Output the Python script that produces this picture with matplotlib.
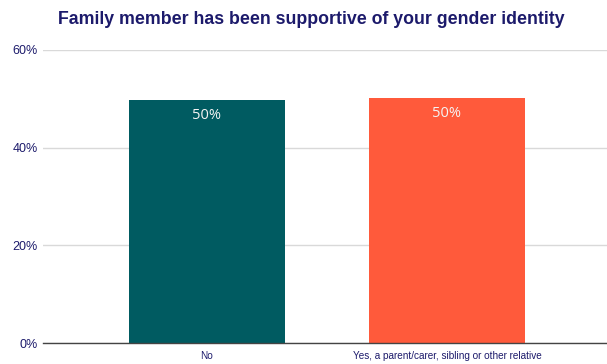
import matplotlib
matplotlib.use('Agg')
from matplotlib import pyplot as plt
from matplotlib.ticker import FuncFormatter

categories = ['No', 'Yes, a parent/carer, sibling or other relative']
shares = [49.8, 50.2]
bar_colors = ['#005B61', '#FF5A3B']
y_ticks = [0, 20, 40, 60]

navy = '#1C1A6B'

plt.rcParams['font.family'] = ['Liberation Sans', 'DejaVu Sans']

fig = plt.figure(figsize=(6.07, 3.64), dpi=100)
ax = fig.add_axes([43 / 607, 21 / 364, 564 / 607, 293 / 364])

xs = range(len(categories))
bars = ax.bar(xs, shares, width=0.65, color=bar_colors, zorder=3)

for bar, value in zip(bars, shares):
    ax.text(bar.get_x() + bar.get_width() / 2, bar.get_height() - 1.6,
            '%d%%' % round(value), ha='center', va='top',
            color='#F4F4F4', fontsize=10.5, family=['Open Sans', 'DejaVu Sans'],
            zorder=4)

ax.set_xlim(-0.683, 1.667)
ax.set_ylim(0, 60)
ax.set_yticks(y_ticks)
ax.yaxis.set_major_formatter(FuncFormatter(lambda v, _: '%d%%' % v))
ax.set_xticks(list(xs))
ax.set_xticklabels(categories)

ax.grid(axis='y', color='#D9D9D9', linewidth=1, zorder=0)
for side in ('top', 'right', 'left'):
    ax.spines[side].set_visible(False)
ax.spines['bottom'].set_color('#444444')
ax.spines['bottom'].set_linewidth(1)
ax.spines['bottom'].set_zorder(5)

ax.tick_params(axis='y', length=0, pad=3.6, labelsize=9, labelcolor=navy)
ax.tick_params(axis='x', length=0, pad=6, labelsize=7.2, labelcolor=navy)

fig.text(311 / 607, 1 - 20 / 364, 'Family member has been supportive of your gender identity',
         ha='center', va='center', fontsize=12.8, fontweight='bold', color=navy)

fig.savefig('out.png', dpi=100)
